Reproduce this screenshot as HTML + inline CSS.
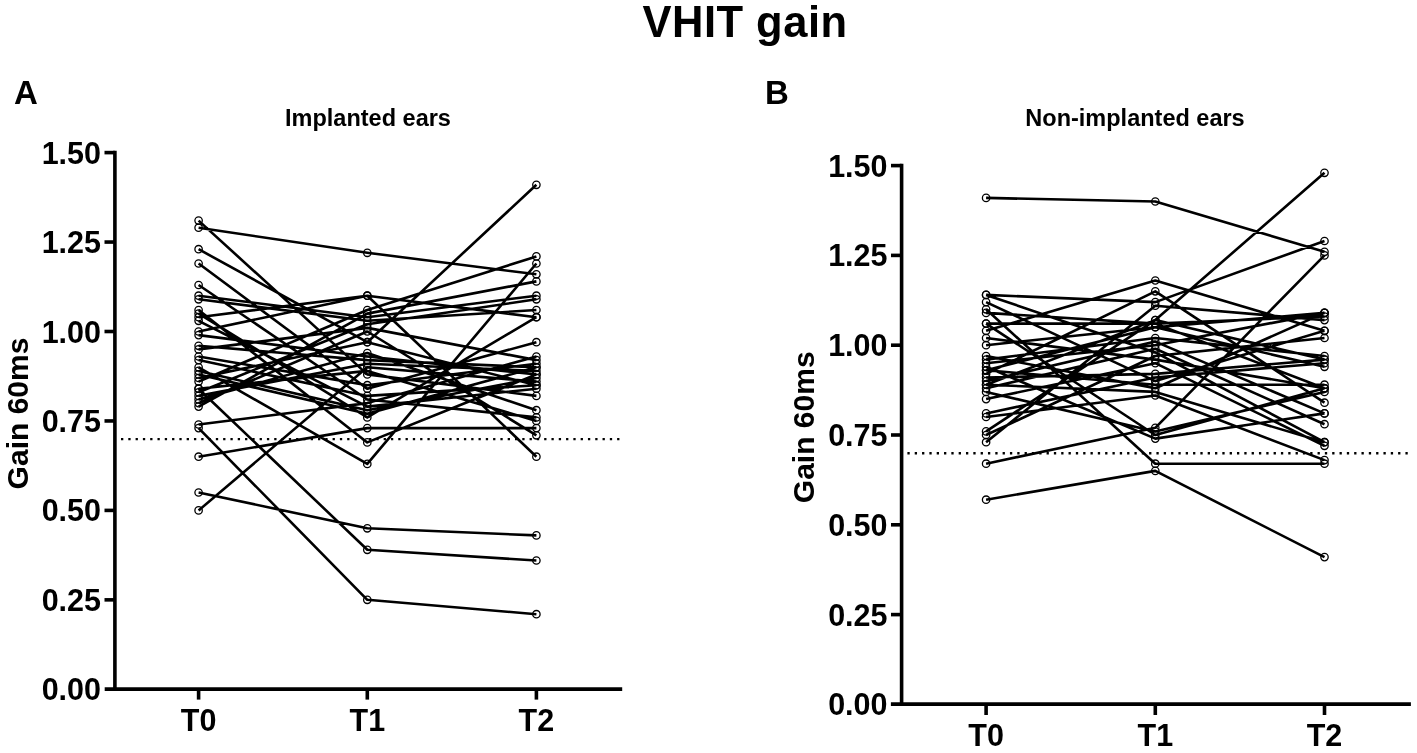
<!DOCTYPE html>
<html><head><meta charset="utf-8"><style>
html,body{margin:0;padding:0;background:#fff;}
svg{display:block;filter:grayscale(1)}
text{font-family:"Liberation Sans", sans-serif;font-weight:bold;fill:#000}
.tk{font-size:30.5px}
.at{font-size:30px}
.ttl{font-size:43.5px;letter-spacing:0.5px}
.pl{font-size:33px}
.sub{font-size:23.5px}
</style></head><body>
<svg width="1417" height="753" viewBox="0 0 1417 753">
<text x="745" y="36.5" text-anchor="middle" class="ttl">VHIT gain</text>
<text x="14" y="103.7" class="pl">A</text>
<text x="765" y="103.7" class="pl">B</text>
<text x="368" y="126" text-anchor="middle" class="sub">Implanted ears</text>
<text x="1135" y="126.1" text-anchor="middle" class="sub">Non-implanted ears</text>
<line x1="114.9" y1="150.80" x2="114.9" y2="689.10" stroke="#000" stroke-width="3.6"/>
<line x1="104.7" y1="689.1" x2="622.2" y2="689.1" stroke="#000" stroke-width="3.7"/>
<text x="101" y="700.30" text-anchor="end" class="tk">0.00</text>
<line x1="104.5" y1="599.85" x2="114.9" y2="599.85" stroke="#000" stroke-width="3.6"/>
<text x="101" y="610.85" text-anchor="end" class="tk">0.25</text>
<line x1="104.5" y1="510.40" x2="114.9" y2="510.40" stroke="#000" stroke-width="3.6"/>
<text x="101" y="521.40" text-anchor="end" class="tk">0.50</text>
<line x1="104.5" y1="420.95" x2="114.9" y2="420.95" stroke="#000" stroke-width="3.6"/>
<text x="101" y="431.95" text-anchor="end" class="tk">0.75</text>
<line x1="104.5" y1="331.50" x2="114.9" y2="331.50" stroke="#000" stroke-width="3.6"/>
<text x="101" y="342.50" text-anchor="end" class="tk">1.00</text>
<line x1="104.5" y1="242.05" x2="114.9" y2="242.05" stroke="#000" stroke-width="3.6"/>
<text x="101" y="253.05" text-anchor="end" class="tk">1.25</text>
<line x1="104.5" y1="152.60" x2="114.9" y2="152.60" stroke="#000" stroke-width="3.6"/>
<text x="101" y="163.60" text-anchor="end" class="tk">1.50</text>
<line x1="198.6" y1="689.1" x2="198.6" y2="699.6" stroke="#000" stroke-width="3.6"/>
<text x="198.6" y="730.6" text-anchor="middle" class="tk">T0</text>
<line x1="367.3" y1="689.1" x2="367.3" y2="699.6" stroke="#000" stroke-width="3.6"/>
<text x="367.3" y="730.6" text-anchor="middle" class="tk">T1</text>
<line x1="536.4" y1="689.1" x2="536.4" y2="699.6" stroke="#000" stroke-width="3.6"/>
<text x="536.4" y="730.6" text-anchor="middle" class="tk">T2</text>
<line x1="121" y1="439.1" x2="619.5" y2="439.1" stroke="#000" stroke-width="2.4" stroke-dasharray="2.3 4.996"/>
<path d="M198.6,220.6 L367.3,374.4 L536.4,395.9 M198.6,227.7 L367.3,252.8 L536.4,274.3 M198.6,249.2 L367.3,342.2 L536.4,385.2 M198.6,263.5 L367.3,388.7 L536.4,342.2 M198.6,285.0 L367.3,399.5 L536.4,417.4 M198.6,310.0 L367.3,442.4 L536.4,374.4 M198.6,367.3 L367.3,463.9 L536.4,263.5 M198.6,388.7 L367.3,549.8 L536.4,560.5 M198.6,428.1 L367.3,599.8 L536.4,614.2 M198.6,424.5 L367.3,403.1 L536.4,356.5 M198.6,492.5 L367.3,528.3 L536.4,535.4 M198.6,456.7 L367.3,428.1 L536.4,428.1 M198.6,510.4 L367.3,367.3 L536.4,381.6 M198.6,317.2 L367.3,295.7 L536.4,317.2 M198.6,331.5 L367.3,295.7 L536.4,456.7 M198.6,295.7 L367.3,317.2 L536.4,295.7 M198.6,299.3 L367.3,320.8 L536.4,310.0 M198.6,313.6 L367.3,417.4 L536.4,317.2 M198.6,320.8 L367.3,406.6 L536.4,388.7 M198.6,335.1 L367.3,356.5 L536.4,374.4 M198.6,345.8 L367.3,360.1 L536.4,367.3 M198.6,349.4 L367.3,327.9 L536.4,360.1 M198.6,356.5 L367.3,385.2 L536.4,363.7 M198.6,360.1 L367.3,395.9 L536.4,385.2 M198.6,370.9 L367.3,410.2 L536.4,378.0 M198.6,374.4 L367.3,413.8 L536.4,367.3 M198.6,378.0 L367.3,342.2 L536.4,184.8 M198.6,381.6 L367.3,310.0 L536.4,256.4 M198.6,388.7 L367.3,370.9 L536.4,420.9 M198.6,392.3 L367.3,324.3 L536.4,299.3 M198.6,395.9 L367.3,363.7 L536.4,370.9 M198.6,399.5 L367.3,353.0 L536.4,410.2 M198.6,403.1 L367.3,331.5 L536.4,435.3 M198.6,406.6 L367.3,313.6 L536.4,281.4" fill="none" stroke="#000" stroke-width="2.6" stroke-linejoin="round"/>
<circle cx="198.6" cy="220.6" r="3.7" fill="none" stroke="#000" stroke-width="1.3"/>
<circle cx="367.3" cy="374.4" r="3.7" fill="none" stroke="#000" stroke-width="1.3"/>
<circle cx="536.4" cy="395.9" r="3.7" fill="none" stroke="#000" stroke-width="1.3"/>
<circle cx="198.6" cy="227.7" r="3.7" fill="none" stroke="#000" stroke-width="1.3"/>
<circle cx="367.3" cy="252.8" r="3.7" fill="none" stroke="#000" stroke-width="1.3"/>
<circle cx="536.4" cy="274.3" r="3.7" fill="none" stroke="#000" stroke-width="1.3"/>
<circle cx="198.6" cy="249.2" r="3.7" fill="none" stroke="#000" stroke-width="1.3"/>
<circle cx="367.3" cy="342.2" r="3.7" fill="none" stroke="#000" stroke-width="1.3"/>
<circle cx="536.4" cy="385.2" r="3.7" fill="none" stroke="#000" stroke-width="1.3"/>
<circle cx="198.6" cy="263.5" r="3.7" fill="none" stroke="#000" stroke-width="1.3"/>
<circle cx="367.3" cy="388.7" r="3.7" fill="none" stroke="#000" stroke-width="1.3"/>
<circle cx="536.4" cy="342.2" r="3.7" fill="none" stroke="#000" stroke-width="1.3"/>
<circle cx="198.6" cy="285.0" r="3.7" fill="none" stroke="#000" stroke-width="1.3"/>
<circle cx="367.3" cy="399.5" r="3.7" fill="none" stroke="#000" stroke-width="1.3"/>
<circle cx="536.4" cy="417.4" r="3.7" fill="none" stroke="#000" stroke-width="1.3"/>
<circle cx="198.6" cy="310.0" r="3.7" fill="none" stroke="#000" stroke-width="1.3"/>
<circle cx="367.3" cy="442.4" r="3.7" fill="none" stroke="#000" stroke-width="1.3"/>
<circle cx="536.4" cy="374.4" r="3.7" fill="none" stroke="#000" stroke-width="1.3"/>
<circle cx="198.6" cy="367.3" r="3.7" fill="none" stroke="#000" stroke-width="1.3"/>
<circle cx="367.3" cy="463.9" r="3.7" fill="none" stroke="#000" stroke-width="1.3"/>
<circle cx="536.4" cy="263.5" r="3.7" fill="none" stroke="#000" stroke-width="1.3"/>
<circle cx="198.6" cy="388.7" r="3.7" fill="none" stroke="#000" stroke-width="1.3"/>
<circle cx="367.3" cy="549.8" r="3.7" fill="none" stroke="#000" stroke-width="1.3"/>
<circle cx="536.4" cy="560.5" r="3.7" fill="none" stroke="#000" stroke-width="1.3"/>
<circle cx="198.6" cy="428.1" r="3.7" fill="none" stroke="#000" stroke-width="1.3"/>
<circle cx="367.3" cy="599.8" r="3.7" fill="none" stroke="#000" stroke-width="1.3"/>
<circle cx="536.4" cy="614.2" r="3.7" fill="none" stroke="#000" stroke-width="1.3"/>
<circle cx="198.6" cy="424.5" r="3.7" fill="none" stroke="#000" stroke-width="1.3"/>
<circle cx="367.3" cy="403.1" r="3.7" fill="none" stroke="#000" stroke-width="1.3"/>
<circle cx="536.4" cy="356.5" r="3.7" fill="none" stroke="#000" stroke-width="1.3"/>
<circle cx="198.6" cy="492.5" r="3.7" fill="none" stroke="#000" stroke-width="1.3"/>
<circle cx="367.3" cy="528.3" r="3.7" fill="none" stroke="#000" stroke-width="1.3"/>
<circle cx="536.4" cy="535.4" r="3.7" fill="none" stroke="#000" stroke-width="1.3"/>
<circle cx="198.6" cy="456.7" r="3.7" fill="none" stroke="#000" stroke-width="1.3"/>
<circle cx="367.3" cy="428.1" r="3.7" fill="none" stroke="#000" stroke-width="1.3"/>
<circle cx="536.4" cy="428.1" r="3.7" fill="none" stroke="#000" stroke-width="1.3"/>
<circle cx="198.6" cy="510.4" r="3.7" fill="none" stroke="#000" stroke-width="1.3"/>
<circle cx="367.3" cy="367.3" r="3.7" fill="none" stroke="#000" stroke-width="1.3"/>
<circle cx="536.4" cy="381.6" r="3.7" fill="none" stroke="#000" stroke-width="1.3"/>
<circle cx="198.6" cy="317.2" r="3.7" fill="none" stroke="#000" stroke-width="1.3"/>
<circle cx="367.3" cy="295.7" r="3.7" fill="none" stroke="#000" stroke-width="1.3"/>
<circle cx="536.4" cy="317.2" r="3.7" fill="none" stroke="#000" stroke-width="1.3"/>
<circle cx="198.6" cy="331.5" r="3.7" fill="none" stroke="#000" stroke-width="1.3"/>
<circle cx="367.3" cy="295.7" r="3.7" fill="none" stroke="#000" stroke-width="1.3"/>
<circle cx="536.4" cy="456.7" r="3.7" fill="none" stroke="#000" stroke-width="1.3"/>
<circle cx="198.6" cy="295.7" r="3.7" fill="none" stroke="#000" stroke-width="1.3"/>
<circle cx="367.3" cy="317.2" r="3.7" fill="none" stroke="#000" stroke-width="1.3"/>
<circle cx="536.4" cy="295.7" r="3.7" fill="none" stroke="#000" stroke-width="1.3"/>
<circle cx="198.6" cy="299.3" r="3.7" fill="none" stroke="#000" stroke-width="1.3"/>
<circle cx="367.3" cy="320.8" r="3.7" fill="none" stroke="#000" stroke-width="1.3"/>
<circle cx="536.4" cy="310.0" r="3.7" fill="none" stroke="#000" stroke-width="1.3"/>
<circle cx="198.6" cy="313.6" r="3.7" fill="none" stroke="#000" stroke-width="1.3"/>
<circle cx="367.3" cy="417.4" r="3.7" fill="none" stroke="#000" stroke-width="1.3"/>
<circle cx="536.4" cy="317.2" r="3.7" fill="none" stroke="#000" stroke-width="1.3"/>
<circle cx="198.6" cy="320.8" r="3.7" fill="none" stroke="#000" stroke-width="1.3"/>
<circle cx="367.3" cy="406.6" r="3.7" fill="none" stroke="#000" stroke-width="1.3"/>
<circle cx="536.4" cy="388.7" r="3.7" fill="none" stroke="#000" stroke-width="1.3"/>
<circle cx="198.6" cy="335.1" r="3.7" fill="none" stroke="#000" stroke-width="1.3"/>
<circle cx="367.3" cy="356.5" r="3.7" fill="none" stroke="#000" stroke-width="1.3"/>
<circle cx="536.4" cy="374.4" r="3.7" fill="none" stroke="#000" stroke-width="1.3"/>
<circle cx="198.6" cy="345.8" r="3.7" fill="none" stroke="#000" stroke-width="1.3"/>
<circle cx="367.3" cy="360.1" r="3.7" fill="none" stroke="#000" stroke-width="1.3"/>
<circle cx="536.4" cy="367.3" r="3.7" fill="none" stroke="#000" stroke-width="1.3"/>
<circle cx="198.6" cy="349.4" r="3.7" fill="none" stroke="#000" stroke-width="1.3"/>
<circle cx="367.3" cy="327.9" r="3.7" fill="none" stroke="#000" stroke-width="1.3"/>
<circle cx="536.4" cy="360.1" r="3.7" fill="none" stroke="#000" stroke-width="1.3"/>
<circle cx="198.6" cy="356.5" r="3.7" fill="none" stroke="#000" stroke-width="1.3"/>
<circle cx="367.3" cy="385.2" r="3.7" fill="none" stroke="#000" stroke-width="1.3"/>
<circle cx="536.4" cy="363.7" r="3.7" fill="none" stroke="#000" stroke-width="1.3"/>
<circle cx="198.6" cy="360.1" r="3.7" fill="none" stroke="#000" stroke-width="1.3"/>
<circle cx="367.3" cy="395.9" r="3.7" fill="none" stroke="#000" stroke-width="1.3"/>
<circle cx="536.4" cy="385.2" r="3.7" fill="none" stroke="#000" stroke-width="1.3"/>
<circle cx="198.6" cy="370.9" r="3.7" fill="none" stroke="#000" stroke-width="1.3"/>
<circle cx="367.3" cy="410.2" r="3.7" fill="none" stroke="#000" stroke-width="1.3"/>
<circle cx="536.4" cy="378.0" r="3.7" fill="none" stroke="#000" stroke-width="1.3"/>
<circle cx="198.6" cy="374.4" r="3.7" fill="none" stroke="#000" stroke-width="1.3"/>
<circle cx="367.3" cy="413.8" r="3.7" fill="none" stroke="#000" stroke-width="1.3"/>
<circle cx="536.4" cy="367.3" r="3.7" fill="none" stroke="#000" stroke-width="1.3"/>
<circle cx="198.6" cy="378.0" r="3.7" fill="none" stroke="#000" stroke-width="1.3"/>
<circle cx="367.3" cy="342.2" r="3.7" fill="none" stroke="#000" stroke-width="1.3"/>
<circle cx="536.4" cy="184.8" r="3.7" fill="none" stroke="#000" stroke-width="1.3"/>
<circle cx="198.6" cy="381.6" r="3.7" fill="none" stroke="#000" stroke-width="1.3"/>
<circle cx="367.3" cy="310.0" r="3.7" fill="none" stroke="#000" stroke-width="1.3"/>
<circle cx="536.4" cy="256.4" r="3.7" fill="none" stroke="#000" stroke-width="1.3"/>
<circle cx="198.6" cy="388.7" r="3.7" fill="none" stroke="#000" stroke-width="1.3"/>
<circle cx="367.3" cy="370.9" r="3.7" fill="none" stroke="#000" stroke-width="1.3"/>
<circle cx="536.4" cy="420.9" r="3.7" fill="none" stroke="#000" stroke-width="1.3"/>
<circle cx="198.6" cy="392.3" r="3.7" fill="none" stroke="#000" stroke-width="1.3"/>
<circle cx="367.3" cy="324.3" r="3.7" fill="none" stroke="#000" stroke-width="1.3"/>
<circle cx="536.4" cy="299.3" r="3.7" fill="none" stroke="#000" stroke-width="1.3"/>
<circle cx="198.6" cy="395.9" r="3.7" fill="none" stroke="#000" stroke-width="1.3"/>
<circle cx="367.3" cy="363.7" r="3.7" fill="none" stroke="#000" stroke-width="1.3"/>
<circle cx="536.4" cy="370.9" r="3.7" fill="none" stroke="#000" stroke-width="1.3"/>
<circle cx="198.6" cy="399.5" r="3.7" fill="none" stroke="#000" stroke-width="1.3"/>
<circle cx="367.3" cy="353.0" r="3.7" fill="none" stroke="#000" stroke-width="1.3"/>
<circle cx="536.4" cy="410.2" r="3.7" fill="none" stroke="#000" stroke-width="1.3"/>
<circle cx="198.6" cy="403.1" r="3.7" fill="none" stroke="#000" stroke-width="1.3"/>
<circle cx="367.3" cy="331.5" r="3.7" fill="none" stroke="#000" stroke-width="1.3"/>
<circle cx="536.4" cy="435.3" r="3.7" fill="none" stroke="#000" stroke-width="1.3"/>
<circle cx="198.6" cy="406.6" r="3.7" fill="none" stroke="#000" stroke-width="1.3"/>
<circle cx="367.3" cy="313.6" r="3.7" fill="none" stroke="#000" stroke-width="1.3"/>
<circle cx="536.4" cy="281.4" r="3.7" fill="none" stroke="#000" stroke-width="1.3"/>
<text transform="translate(27.9,413.5) rotate(-90)" text-anchor="middle" class="at">Gain 60ms</text>
<line x1="901.6" y1="163.80" x2="901.6" y2="704.10" stroke="#000" stroke-width="3.6"/>
<line x1="890.9" y1="704.1" x2="1410.9" y2="704.1" stroke="#000" stroke-width="3.7"/>
<text x="887.5" y="715.40" text-anchor="end" class="tk">0.00</text>
<line x1="891" y1="614.60" x2="901.6" y2="614.60" stroke="#000" stroke-width="3.6"/>
<text x="887.5" y="625.60" text-anchor="end" class="tk">0.25</text>
<line x1="891" y1="524.80" x2="901.6" y2="524.80" stroke="#000" stroke-width="3.6"/>
<text x="887.5" y="535.80" text-anchor="end" class="tk">0.50</text>
<line x1="891" y1="435.00" x2="901.6" y2="435.00" stroke="#000" stroke-width="3.6"/>
<text x="887.5" y="446.00" text-anchor="end" class="tk">0.75</text>
<line x1="891" y1="345.20" x2="901.6" y2="345.20" stroke="#000" stroke-width="3.6"/>
<text x="887.5" y="356.20" text-anchor="end" class="tk">1.00</text>
<line x1="891" y1="255.40" x2="901.6" y2="255.40" stroke="#000" stroke-width="3.6"/>
<text x="887.5" y="266.40" text-anchor="end" class="tk">1.25</text>
<line x1="891" y1="165.60" x2="901.6" y2="165.60" stroke="#000" stroke-width="3.6"/>
<text x="887.5" y="176.60" text-anchor="end" class="tk">1.50</text>
<line x1="986.1" y1="704.1" x2="986.1" y2="715" stroke="#000" stroke-width="3.6"/>
<text x="986.1" y="746" text-anchor="middle" class="tk">T0</text>
<line x1="1155.3" y1="704.1" x2="1155.3" y2="715" stroke="#000" stroke-width="3.6"/>
<text x="1155.3" y="746" text-anchor="middle" class="tk">T1</text>
<line x1="1324.5" y1="704.1" x2="1324.5" y2="715" stroke="#000" stroke-width="3.6"/>
<text x="1324.5" y="746" text-anchor="middle" class="tk">T2</text>
<line x1="907.4" y1="453.3" x2="1407.8" y2="453.3" stroke="#000" stroke-width="2.4" stroke-dasharray="2.3 5.024"/>
<path d="M986.1,197.9 L1155.3,201.5 L1324.5,251.8 M986.1,499.7 L1155.3,470.9 L1324.5,557.1 M986.1,309.3 L1155.3,463.7 L1324.5,463.7 M986.1,463.7 L1155.3,427.8 L1324.5,255.4 M986.1,431.4 L1155.3,320.1 L1324.5,172.8 M986.1,442.2 L1155.3,305.7 L1324.5,320.1 M986.1,294.9 L1155.3,302.1 L1324.5,241.0 M986.1,330.8 L1155.3,280.5 L1324.5,330.8 M986.1,373.9 L1155.3,291.3 L1324.5,402.7 M986.1,417.0 L1155.3,395.5 L1324.5,460.1 M986.1,435.0 L1155.3,356.0 L1324.5,338.0 M986.1,294.9 L1155.3,352.4 L1324.5,442.2 M986.1,302.1 L1155.3,381.1 L1324.5,330.8 M986.1,312.9 L1155.3,323.6 L1324.5,316.5 M986.1,323.6 L1155.3,435.0 L1324.5,388.3 M986.1,338.0 L1155.3,359.6 L1324.5,388.3 M986.1,345.2 L1155.3,327.2 L1324.5,366.8 M986.1,356.0 L1155.3,388.3 L1324.5,312.9 M986.1,359.6 L1155.3,338.0 L1324.5,356.0 M986.1,363.2 L1155.3,345.2 L1324.5,312.9 M986.1,366.8 L1155.3,438.6 L1324.5,413.4 M986.1,370.3 L1155.3,384.7 L1324.5,384.7 M986.1,377.5 L1155.3,373.9 L1324.5,359.6 M986.1,381.1 L1155.3,341.6 L1324.5,413.4 M986.1,384.7 L1155.3,391.9 L1324.5,442.2 M986.1,388.3 L1155.3,348.8 L1324.5,424.2 M986.1,391.9 L1155.3,431.4 L1324.5,391.9 M986.1,399.1 L1155.3,363.2 L1324.5,445.8 M986.1,413.4 L1155.3,377.5 L1324.5,363.2 M986.1,323.6 L1155.3,323.6 L1324.5,388.3 M986.1,370.3 L1155.3,327.2 L1324.5,312.9 M986.1,384.7 L1155.3,320.1 L1324.5,359.6" fill="none" stroke="#000" stroke-width="2.6" stroke-linejoin="round"/>
<circle cx="986.1" cy="197.9" r="3.7" fill="none" stroke="#000" stroke-width="1.3"/>
<circle cx="1155.3" cy="201.5" r="3.7" fill="none" stroke="#000" stroke-width="1.3"/>
<circle cx="1324.5" cy="251.8" r="3.7" fill="none" stroke="#000" stroke-width="1.3"/>
<circle cx="986.1" cy="499.7" r="3.7" fill="none" stroke="#000" stroke-width="1.3"/>
<circle cx="1155.3" cy="470.9" r="3.7" fill="none" stroke="#000" stroke-width="1.3"/>
<circle cx="1324.5" cy="557.1" r="3.7" fill="none" stroke="#000" stroke-width="1.3"/>
<circle cx="986.1" cy="309.3" r="3.7" fill="none" stroke="#000" stroke-width="1.3"/>
<circle cx="1155.3" cy="463.7" r="3.7" fill="none" stroke="#000" stroke-width="1.3"/>
<circle cx="1324.5" cy="463.7" r="3.7" fill="none" stroke="#000" stroke-width="1.3"/>
<circle cx="986.1" cy="463.7" r="3.7" fill="none" stroke="#000" stroke-width="1.3"/>
<circle cx="1155.3" cy="427.8" r="3.7" fill="none" stroke="#000" stroke-width="1.3"/>
<circle cx="1324.5" cy="255.4" r="3.7" fill="none" stroke="#000" stroke-width="1.3"/>
<circle cx="986.1" cy="431.4" r="3.7" fill="none" stroke="#000" stroke-width="1.3"/>
<circle cx="1155.3" cy="320.1" r="3.7" fill="none" stroke="#000" stroke-width="1.3"/>
<circle cx="1324.5" cy="172.8" r="3.7" fill="none" stroke="#000" stroke-width="1.3"/>
<circle cx="986.1" cy="442.2" r="3.7" fill="none" stroke="#000" stroke-width="1.3"/>
<circle cx="1155.3" cy="305.7" r="3.7" fill="none" stroke="#000" stroke-width="1.3"/>
<circle cx="1324.5" cy="320.1" r="3.7" fill="none" stroke="#000" stroke-width="1.3"/>
<circle cx="986.1" cy="294.9" r="3.7" fill="none" stroke="#000" stroke-width="1.3"/>
<circle cx="1155.3" cy="302.1" r="3.7" fill="none" stroke="#000" stroke-width="1.3"/>
<circle cx="1324.5" cy="241.0" r="3.7" fill="none" stroke="#000" stroke-width="1.3"/>
<circle cx="986.1" cy="330.8" r="3.7" fill="none" stroke="#000" stroke-width="1.3"/>
<circle cx="1155.3" cy="280.5" r="3.7" fill="none" stroke="#000" stroke-width="1.3"/>
<circle cx="1324.5" cy="330.8" r="3.7" fill="none" stroke="#000" stroke-width="1.3"/>
<circle cx="986.1" cy="373.9" r="3.7" fill="none" stroke="#000" stroke-width="1.3"/>
<circle cx="1155.3" cy="291.3" r="3.7" fill="none" stroke="#000" stroke-width="1.3"/>
<circle cx="1324.5" cy="402.7" r="3.7" fill="none" stroke="#000" stroke-width="1.3"/>
<circle cx="986.1" cy="417.0" r="3.7" fill="none" stroke="#000" stroke-width="1.3"/>
<circle cx="1155.3" cy="395.5" r="3.7" fill="none" stroke="#000" stroke-width="1.3"/>
<circle cx="1324.5" cy="460.1" r="3.7" fill="none" stroke="#000" stroke-width="1.3"/>
<circle cx="986.1" cy="435.0" r="3.7" fill="none" stroke="#000" stroke-width="1.3"/>
<circle cx="1155.3" cy="356.0" r="3.7" fill="none" stroke="#000" stroke-width="1.3"/>
<circle cx="1324.5" cy="338.0" r="3.7" fill="none" stroke="#000" stroke-width="1.3"/>
<circle cx="986.1" cy="294.9" r="3.7" fill="none" stroke="#000" stroke-width="1.3"/>
<circle cx="1155.3" cy="352.4" r="3.7" fill="none" stroke="#000" stroke-width="1.3"/>
<circle cx="1324.5" cy="442.2" r="3.7" fill="none" stroke="#000" stroke-width="1.3"/>
<circle cx="986.1" cy="302.1" r="3.7" fill="none" stroke="#000" stroke-width="1.3"/>
<circle cx="1155.3" cy="381.1" r="3.7" fill="none" stroke="#000" stroke-width="1.3"/>
<circle cx="1324.5" cy="330.8" r="3.7" fill="none" stroke="#000" stroke-width="1.3"/>
<circle cx="986.1" cy="312.9" r="3.7" fill="none" stroke="#000" stroke-width="1.3"/>
<circle cx="1155.3" cy="323.6" r="3.7" fill="none" stroke="#000" stroke-width="1.3"/>
<circle cx="1324.5" cy="316.5" r="3.7" fill="none" stroke="#000" stroke-width="1.3"/>
<circle cx="986.1" cy="323.6" r="3.7" fill="none" stroke="#000" stroke-width="1.3"/>
<circle cx="1155.3" cy="435.0" r="3.7" fill="none" stroke="#000" stroke-width="1.3"/>
<circle cx="1324.5" cy="388.3" r="3.7" fill="none" stroke="#000" stroke-width="1.3"/>
<circle cx="986.1" cy="338.0" r="3.7" fill="none" stroke="#000" stroke-width="1.3"/>
<circle cx="1155.3" cy="359.6" r="3.7" fill="none" stroke="#000" stroke-width="1.3"/>
<circle cx="1324.5" cy="388.3" r="3.7" fill="none" stroke="#000" stroke-width="1.3"/>
<circle cx="986.1" cy="345.2" r="3.7" fill="none" stroke="#000" stroke-width="1.3"/>
<circle cx="1155.3" cy="327.2" r="3.7" fill="none" stroke="#000" stroke-width="1.3"/>
<circle cx="1324.5" cy="366.8" r="3.7" fill="none" stroke="#000" stroke-width="1.3"/>
<circle cx="986.1" cy="356.0" r="3.7" fill="none" stroke="#000" stroke-width="1.3"/>
<circle cx="1155.3" cy="388.3" r="3.7" fill="none" stroke="#000" stroke-width="1.3"/>
<circle cx="1324.5" cy="312.9" r="3.7" fill="none" stroke="#000" stroke-width="1.3"/>
<circle cx="986.1" cy="359.6" r="3.7" fill="none" stroke="#000" stroke-width="1.3"/>
<circle cx="1155.3" cy="338.0" r="3.7" fill="none" stroke="#000" stroke-width="1.3"/>
<circle cx="1324.5" cy="356.0" r="3.7" fill="none" stroke="#000" stroke-width="1.3"/>
<circle cx="986.1" cy="363.2" r="3.7" fill="none" stroke="#000" stroke-width="1.3"/>
<circle cx="1155.3" cy="345.2" r="3.7" fill="none" stroke="#000" stroke-width="1.3"/>
<circle cx="1324.5" cy="312.9" r="3.7" fill="none" stroke="#000" stroke-width="1.3"/>
<circle cx="986.1" cy="366.8" r="3.7" fill="none" stroke="#000" stroke-width="1.3"/>
<circle cx="1155.3" cy="438.6" r="3.7" fill="none" stroke="#000" stroke-width="1.3"/>
<circle cx="1324.5" cy="413.4" r="3.7" fill="none" stroke="#000" stroke-width="1.3"/>
<circle cx="986.1" cy="370.3" r="3.7" fill="none" stroke="#000" stroke-width="1.3"/>
<circle cx="1155.3" cy="384.7" r="3.7" fill="none" stroke="#000" stroke-width="1.3"/>
<circle cx="1324.5" cy="384.7" r="3.7" fill="none" stroke="#000" stroke-width="1.3"/>
<circle cx="986.1" cy="377.5" r="3.7" fill="none" stroke="#000" stroke-width="1.3"/>
<circle cx="1155.3" cy="373.9" r="3.7" fill="none" stroke="#000" stroke-width="1.3"/>
<circle cx="1324.5" cy="359.6" r="3.7" fill="none" stroke="#000" stroke-width="1.3"/>
<circle cx="986.1" cy="381.1" r="3.7" fill="none" stroke="#000" stroke-width="1.3"/>
<circle cx="1155.3" cy="341.6" r="3.7" fill="none" stroke="#000" stroke-width="1.3"/>
<circle cx="1324.5" cy="413.4" r="3.7" fill="none" stroke="#000" stroke-width="1.3"/>
<circle cx="986.1" cy="384.7" r="3.7" fill="none" stroke="#000" stroke-width="1.3"/>
<circle cx="1155.3" cy="391.9" r="3.7" fill="none" stroke="#000" stroke-width="1.3"/>
<circle cx="1324.5" cy="442.2" r="3.7" fill="none" stroke="#000" stroke-width="1.3"/>
<circle cx="986.1" cy="388.3" r="3.7" fill="none" stroke="#000" stroke-width="1.3"/>
<circle cx="1155.3" cy="348.8" r="3.7" fill="none" stroke="#000" stroke-width="1.3"/>
<circle cx="1324.5" cy="424.2" r="3.7" fill="none" stroke="#000" stroke-width="1.3"/>
<circle cx="986.1" cy="391.9" r="3.7" fill="none" stroke="#000" stroke-width="1.3"/>
<circle cx="1155.3" cy="431.4" r="3.7" fill="none" stroke="#000" stroke-width="1.3"/>
<circle cx="1324.5" cy="391.9" r="3.7" fill="none" stroke="#000" stroke-width="1.3"/>
<circle cx="986.1" cy="399.1" r="3.7" fill="none" stroke="#000" stroke-width="1.3"/>
<circle cx="1155.3" cy="363.2" r="3.7" fill="none" stroke="#000" stroke-width="1.3"/>
<circle cx="1324.5" cy="445.8" r="3.7" fill="none" stroke="#000" stroke-width="1.3"/>
<circle cx="986.1" cy="413.4" r="3.7" fill="none" stroke="#000" stroke-width="1.3"/>
<circle cx="1155.3" cy="377.5" r="3.7" fill="none" stroke="#000" stroke-width="1.3"/>
<circle cx="1324.5" cy="363.2" r="3.7" fill="none" stroke="#000" stroke-width="1.3"/>
<circle cx="986.1" cy="323.6" r="3.7" fill="none" stroke="#000" stroke-width="1.3"/>
<circle cx="1155.3" cy="323.6" r="3.7" fill="none" stroke="#000" stroke-width="1.3"/>
<circle cx="1324.5" cy="388.3" r="3.7" fill="none" stroke="#000" stroke-width="1.3"/>
<circle cx="986.1" cy="370.3" r="3.7" fill="none" stroke="#000" stroke-width="1.3"/>
<circle cx="1155.3" cy="327.2" r="3.7" fill="none" stroke="#000" stroke-width="1.3"/>
<circle cx="1324.5" cy="312.9" r="3.7" fill="none" stroke="#000" stroke-width="1.3"/>
<circle cx="986.1" cy="384.7" r="3.7" fill="none" stroke="#000" stroke-width="1.3"/>
<circle cx="1155.3" cy="320.1" r="3.7" fill="none" stroke="#000" stroke-width="1.3"/>
<circle cx="1324.5" cy="359.6" r="3.7" fill="none" stroke="#000" stroke-width="1.3"/>
<text transform="translate(813.6,427.3) rotate(-90)" text-anchor="middle" class="at">Gain 60ms</text>
</svg>
</body></html>
